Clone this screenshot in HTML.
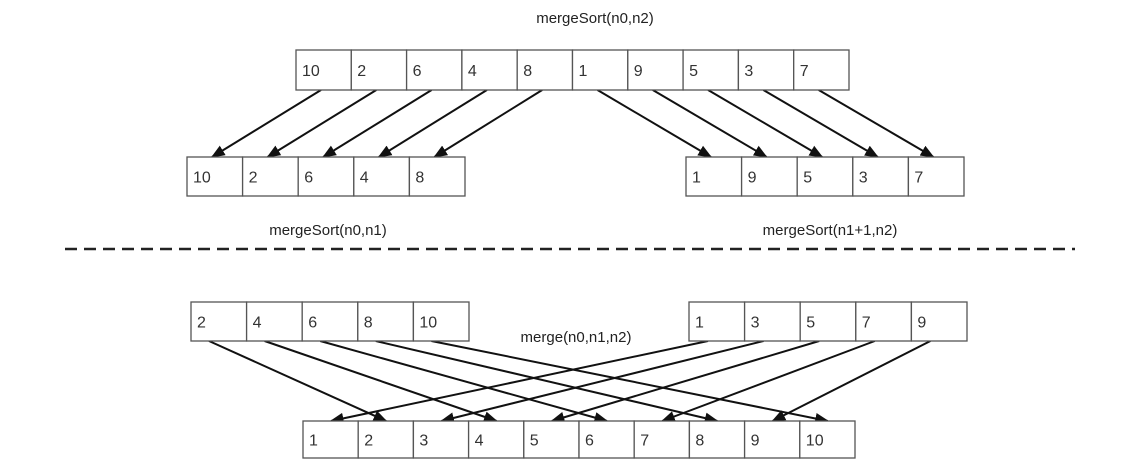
<!DOCTYPE html>
<html><head><meta charset="utf-8"><style>
html,body{margin:0;padding:0;background:#fff;}
svg{display:block;font-family:"Liberation Sans",sans-serif;}
</style></head><body>
<svg id="c" width="1124" height="470" viewBox="0 0 1124 470">
<defs><marker id="ah" viewBox="0 0 10 10" refX="9" refY="5" markerWidth="7" markerHeight="7" orient="auto-start-reverse"><path d="M0,1 L10,5 L0,9 z" fill="#111"/></marker></defs>
<text x="595" y="23" font-size="15" fill="#222" text-anchor="middle">mergeSort(n0,n2)</text>
<text x="328" y="235" font-size="15" fill="#222" text-anchor="middle">mergeSort(n0,n1)</text>
<text x="830" y="235" font-size="15" fill="#222" text-anchor="middle">mergeSort(n1+1,n2)</text>
<line x1="65" y1="249" x2="1075" y2="249" stroke="#222" stroke-width="2.5" stroke-dasharray="12,7"/>
<text x="576" y="342" font-size="15" fill="#222" text-anchor="middle">merge(n0,n1,n2)</text>
</svg>
<script>
const topVals=[10,2,6,4,8,1,9,5,3,7];
const leftVals=[10,2,6,4,8];
const rightVals=[1,9,5,3,7];
const mergeLeft=[2,4,6,8,10];
const mergeRight=[1,3,5,7,9];
const sortedVals=[1,2,3,4,5,6,7,8,9,10];
const NS="http://www.w3.org/2000/svg";
const svg=document.getElementById('c');
function mk(t,a){const e=document.createElementNS(NS,t);for(const k in a)e.setAttribute(k,a[k]);svg.appendChild(e);return e;}
function arr(vals,x0,y0,cw,h,name){
  vals.forEach((v,i)=>{
    const r=mk('rect',{x:x0+i*cw,y:y0,width:cw,height:h,fill:'#fff',stroke:'#555','stroke-width':1.3});
    
    
    const t=mk('text',{x:x0+i*cw+6,y:y0+h/2+6,'font-size':16,fill:'#333'});
    t.textContent=v;
    
    
  });
}
function arrow(x1,y1,x2,y2){
  const l=mk('line',{x1,y1,x2,y2,stroke:'#111','stroke-width':2,'marker-end':'url(#ah)'});
  
  
}
const TX=296,TW=55.3,TY=50,TH=40;
const LX=187,RX=686,CW=55.6,R2Y=157,R2H=39;
const MLX=191,MRX=689,MY=302,MH=39;
const BX=303,BW=55.2,BY=421,BH=37;
// top -> split arrows
topVals.forEach((v,i)=>{
  const sx=TX+i*TW+25;
  let tx;
  if(i<leftVals.length){tx=LX+leftVals.indexOf(v)*CW+25;}
  else{tx=RX+rightVals.indexOf(v)*CW+25;}
  arrow(sx,TY+TH,tx,R2Y);
});
// merge arrows
mergeLeft.forEach((v,i)=>{arrow(MLX+i*CW+18,MY+MH,BX+sortedVals.indexOf(v)*BW+28,BY);});
mergeRight.forEach((v,i)=>{arrow(MRX+i*CW+19,MY+MH,BX+sortedVals.indexOf(v)*BW+28,BY);});
arr(topVals,TX,TY,TW,TH,'top-array');
arr(leftVals,LX,R2Y,CW,R2H,'left-half-array');
arr(rightVals,RX,R2Y,CW,R2H,'right-half-array');
arr(mergeLeft,MLX,MY,CW,MH,'sorted-left-array');
arr(mergeRight,MRX,MY,CW,MH,'sorted-right-array');
arr(sortedVals,BX,BY,BW,BH,'merged-array');
</script>
</body></html>
